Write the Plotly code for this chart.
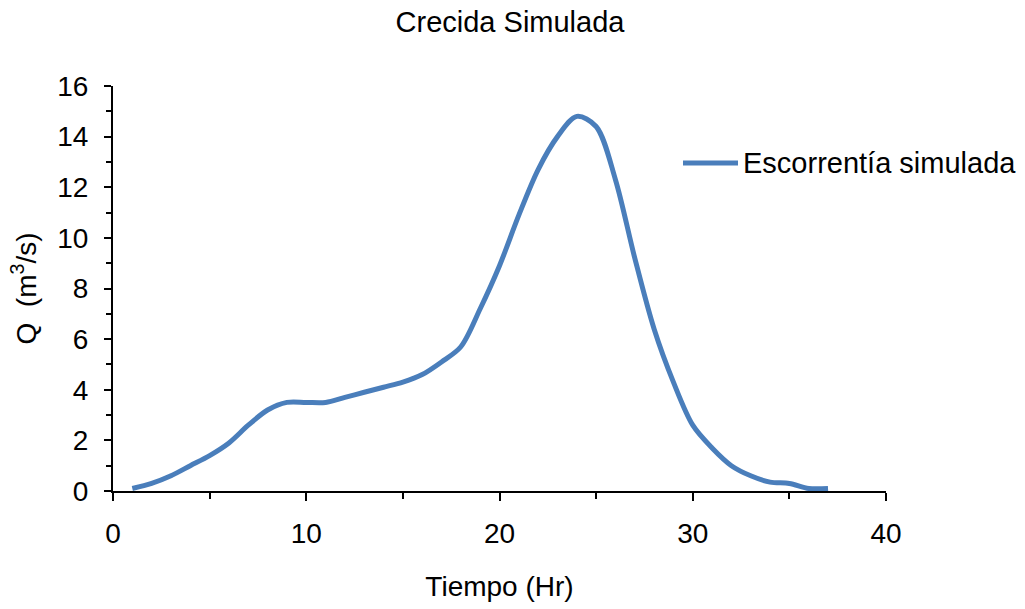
import plotly.graph_objects as go

# hourly simulated runoff
tiempo = list(range(1, 38))
caudal = [0.1, 0.3, 0.6, 1.0, 1.4, 1.9, 2.6, 3.2, 3.5, 3.5,
          3.5, 3.7, 3.9, 4.1, 4.3, 4.6, 5.1, 5.7, 7.2, 8.9,
          10.9, 12.7, 14.0, 14.8, 14.4, 12.3, 9.2, 6.4, 4.3, 2.6,
          1.7, 1.0, 0.6, 0.35, 0.3, 0.1, 0.1]

serie = "Escorrentía simulada"
line_color = "#4A7EBB"
font_family = "Liberation Sans, Arial, sans-serif"
fsize = 28

fig = go.Figure()
fig.add_trace(go.Scatter(x=tiempo, y=caudal, mode="lines", name=serie,
                         line=dict(color=line_color, width=5, shape="spline", smoothing=0.9),
                         showlegend=False))

fig.update_layout(
    width=1025, height=609,
    margin=dict(l=105, r=147, t=78, b=126),
    paper_bgcolor="white", plot_bgcolor="white",
    font=dict(family=font_family, size=fsize, color="black"),
    title=dict(text="Crecida Simulada", x=(510 - 8) / 1025, xref="container", xanchor="center",
               y=1 - 14 / 609, yanchor="middle", font=dict(size=29)),
)

fig.update_xaxes(range=[0, 40], dtick=10, showgrid=False, zeroline=False,
                 showline=True, linecolor="black", linewidth=2,
                 ticks="outside", ticklen=8, tickwidth=2, tickcolor="black",
                 tickfont=dict(size=fsize), ticklabelstandoff=8,
                 minor=dict(dtick=5, ticks="outside", ticklen=6, tickwidth=2, tickcolor="black"),
                 title=dict(text="Tiempo (Hr)", standoff=29, font=dict(size=fsize)))
fig.update_yaxes(range=[0, 16], dtick=2, showgrid=False, zeroline=False,
                 showline=True, linecolor="black", linewidth=2, automargin=False,
                 ticks="outside", ticklen=7, tickwidth=2, tickcolor="black",
                 tickfont=dict(size=fsize), ticklabelstandoff=10,
                 minor=dict(dtick=1, ticks="outside", ticklen=5, tickwidth=2, tickcolor="black"))

# y title placed by hand (axis automargin would push the plot area right)
fig.add_annotation(xref="paper", yref="paper", x=-(113 - 24) / 773, y=0.5,
                   xanchor="center", yanchor="middle", textangle=-90,
                   text="Q  (m<sup>3</sup>/s)", showarrow=False, font=dict(size=fsize))

# legend drawn by hand so the sample line matches the long Excel style
lx0 = (683 - 113) / 773
lx1 = (738 - 113) / 773
ly = (491 - 163) / 405
fig.add_shape(type="line", xref="paper", yref="paper", x0=lx0, x1=lx1, y0=ly, y1=ly,
              line=dict(color=line_color, width=5))
fig.add_annotation(xref="paper", yref="paper", x=lx1 + 3 / 773, y=ly, xanchor="left",
                   yanchor="middle", text=serie, showarrow=False, font=dict(size=29))

fig.write_html("out.html")
